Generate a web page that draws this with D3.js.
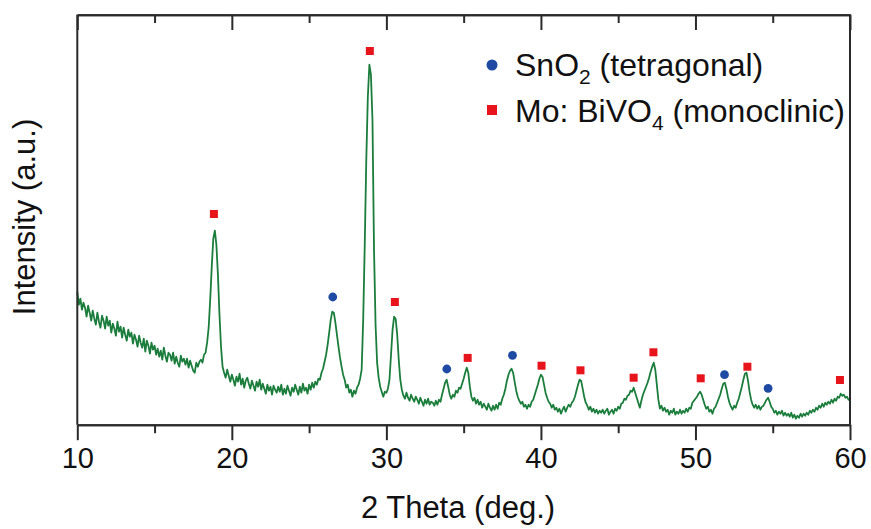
<!DOCTYPE html>
<html>
<head>
<meta charset="utf-8">
<script src="https://cdn.jsdelivr.net/npm/d3@7/dist/d3.min.js"></script>
<style>
  html, body { margin: 0; padding: 0; background: #fff; }
  svg { display: block; }
  text { font-family: "Liberation Sans", Arial, Helvetica, sans-serif; fill: #111; }
</style>
</head>
<body>
<svg id="chart" width="871" height="529"></svg>
<script>
// ---- DATA ----
const thetaStart = 10, thetaStep = 0.1;   // 2θ grid: 10.0 ... 60.0
const intensity = [
  133,120,126,115,122,117,108,119,112,104,   // 10
  114,106,100,112,103,97,109,104,96,108,     // 11
  99,104,92,101,96,89,103,93,98,87,          // 12
  97,90,84,95,88,92,81,90,85,78,             // 13
  89,82,77,86,73,84,79,71,82,75,             // 14
  79,70,76,68,74,65,77,69,63,72,             // 15
  70,64,72,61,68,62,58,69,63,66,             // 16
  60,66,57,64,59,54,52,62,58,63,             // 17
  65,62,70,72,82,97,125,158,186,194,         // 18
  180,150,110,78,58,52,47,55,49,43,          // 19
  50,45,39,48,43,51,40,46,37,44,             // 20
  47,41,36,44,39,34,43,38,45,35,             // 21
  41,36,31,40,34,38,30,39,35,32,             // 22
  38,33,40,30,36,31,39,34,29,37,             // 23
  33,40,35,30,38,32,41,34,37,31,             // 24
  40,35,42,37,43,40,46,45,52,56,             // 25
  63,70,80,92,105,113,112,102,90,78,         // 26
  67,58,50,45,37,40,32,35,28,34,             // 27
  31,37,40,46,55,105,180,265,328,360,        // 28
  350,305,175,100,62,47,38,33,28,33,         // 29
  32,36,45,70,95,108,106,90,65,45,           // 30
  35,29,26,32,27,24,30,26,23,28,             // 31
  25,21,27,23,19,25,21,26,20,23,             // 32
  22,19,24,20,25,23,30,36,42,45,             // 33
  38,30,26,30,28,34,32,37,36,41,             // 34
  46,52,57,52,38,28,24,27,21,25,             // 35
  20,23,17,21,18,15,21,17,14,19,             // 36
  15,20,16,22,20,26,30,36,44,50,             // 37
  54,56,52,43,34,28,24,21,23,18,             // 38
  20,16,20,18,23,25,30,35,40,46,             // 39
  50,48,40,32,27,23,21,17,20,15,             // 40
  17,13,16,11,15,18,13,17,20,18,             // 41
  22,24,28,34,40,45,44,36,28,22,             // 42
  19,15,18,13,16,12,15,11,14,12,             // 43
  15,11,14,16,10,13,15,11,16,14,             // 44
  18,16,21,22,26,25,29,30,34,33,             // 45
  37,32,27,22,17,24,30,34,38,42,             // 46
  47,53,58,62,55,40,25,16,19,14,             // 47
  17,13,15,10,14,12,16,10,13,11,             // 48
  15,11,14,12,16,13,17,16,22,24,             // 49
  26,28,31,33,30,25,20,16,18,13,             // 50
  15,11,16,18,22,26,30,36,41,42,             // 51
  36,28,22,18,15,19,17,22,26,32,             // 52
  38,45,51,52,44,33,25,20,17,20,             // 53
  16,19,15,18,19,22,25,27,23,18,             // 54
  16,12,14,10,13,11,14,9,12,9,               // 55
  11,8,12,7,10,6,9,7,11,8,                   // 56
  11,9,12,10,14,12,15,13,17,15,              // 57
  19,17,21,18,22,20,23,21,25,22,             // 58
  26,24,28,27,31,29,30,27,28,25,             // 59
  26                                         // 60
];

// Peak markers (2θ position and marker height, same intensity units)
const sno2Theta  = [26.53, 33.91, 38.16, 51.88, 54.70];
const sno2Mark   = [127.7, 55.7, 69.4, 50.0, 36.4];
const bivo4Theta = [18.84, 28.93, 30.55, 35.26, 40.04, 42.56, 46.00, 47.28, 50.34, 53.36, 59.35];
const bivo4Mark  = [210.7, 373.7, 122.7, 66.8, 59.0, 54.4, 47.0, 72.4, 46.4, 58.0, 44.7];

const xTicks = [10, 20, 30, 40, 50, 60];
const xMinorTicks = [15, 25, 35, 45, 55];

// ---- CHART ----
const svg = d3.select("#chart");
const L = 77.3, R = 850, T = 14.7, B = 424.7;
const x = d3.scaleLinear().domain([10, 60]).range([L, R]);
const y = d3.scaleLinear().domain([0, 410]).range([B, T]);

const frameColor = "#2a2a2a";
const points = intensity.map((v, i) => [thetaStart + i * thetaStep, v]);

// spectrum line
svg.append("path")
  .datum(points)
  .attr("fill", "none")
  .attr("stroke", "#1b7d3c")
  .attr("stroke-width", 1.8)
  .attr("stroke-linejoin", "round")
  .attr("d", d3.line().x(d => x(d[0])).y(d => y(d[1])));

// bottom axis (outer ticks)
const bottomAxis = svg.append("g").attr("transform", `translate(0,${B})`);
bottomAxis.call(d3.axisBottom(x).tickValues(xTicks).tickSize(15.5).tickSizeOuter(0).tickFormat(d3.format("d")));
bottomAxis.append("g").call(d3.axisBottom(x).tickValues(xMinorTicks).tickSize(8.5).tickSizeOuter(0).tickFormat(""));
bottomAxis.selectAll(".domain").attr("stroke", frameColor).attr("stroke-width", 2);
bottomAxis.selectAll(".tick line").attr("stroke", frameColor).attr("stroke-width", 2);
bottomAxis.selectAll(".tick text")
  .attr("font-size", 29).attr("font-family", "Liberation Sans, Arial, sans-serif")
  .attr("fill", "#111").attr("dy", null).attr("y", 43.5);

// top axis (inner ticks)
const topAxis = svg.append("g").attr("transform", `translate(0,${T})`);
topAxis.call(d3.axisBottom(x).tickValues(xTicks).tickSize(15.3).tickSizeOuter(0).tickFormat(""));
topAxis.append("g").call(d3.axisBottom(x).tickValues(xMinorTicks).tickSize(8.3).tickSizeOuter(0).tickFormat(""));
topAxis.selectAll(".domain").attr("stroke", frameColor).attr("stroke-width", 2);
topAxis.selectAll(".tick line").attr("stroke", frameColor).attr("stroke-width", 2);

// left & right frame
svg.append("line").attr("x1", L).attr("x2", L).attr("y1", T).attr("y2", B)
  .attr("stroke", frameColor).attr("stroke-width", 2);
svg.append("line").attr("x1", R).attr("x2", R).attr("y1", T).attr("y2", B)
  .attr("stroke", frameColor).attr("stroke-width", 2);

// markers
svg.append("g").selectAll("circle")
  .data(sno2Theta.map((t, i) => [t, sno2Mark[i]]))
  .join("circle")
  .attr("cx", d => x(d[0])).attr("cy", d => y(d[1])).attr("r", 4.4)
  .attr("fill", "#1f4aa3");

svg.append("g").selectAll("rect")
  .data(bivo4Theta.map((t, i) => [t, bivo4Mark[i]]))
  .join("rect")
  .attr("x", d => x(d[0]) - 4).attr("y", d => y(d[1]) - 4)
  .attr("width", 8).attr("height", 8)
  .attr("fill", "#e8141c");

// axis titles
svg.append("text")
  .attr("x", 458).attr("y", 518)
  .attr("text-anchor", "middle").attr("font-size", 31)
  .text("2 Theta (deg.)");

svg.append("text")
  .attr("transform", "translate(35,217) rotate(-90)")
  .attr("text-anchor", "middle").attr("font-size", 31)
  .text("Intensity (a.u.)");

// legend
const lg = svg.append("g");
lg.append("circle").attr("cx", 492).attr("cy", 65).attr("r", 5.5).attr("fill", "#1f4aa3");
lg.append("rect").attr("x", 487).attr("y", 105).attr("width", 10).attr("height", 10).attr("fill", "#e8141c");

const t1 = lg.append("text").attr("x", 515).attr("y", 76).attr("font-size", 32);
t1.append("tspan").text("SnO");
t1.append("tspan").attr("font-size", 21).attr("dy", 8).text("2");
t1.append("tspan").attr("dy", -8).text(" (tetragonal)");

const t2 = lg.append("text").attr("x", 515).attr("y", 122).attr("font-size", 32);
t2.append("tspan").text("Mo: BiVO");
t2.append("tspan").attr("font-size", 21).attr("dy", 8).text("4");
t2.append("tspan").attr("dy", -8).text(" (monoclinic)");
</script>
</body>
</html>
